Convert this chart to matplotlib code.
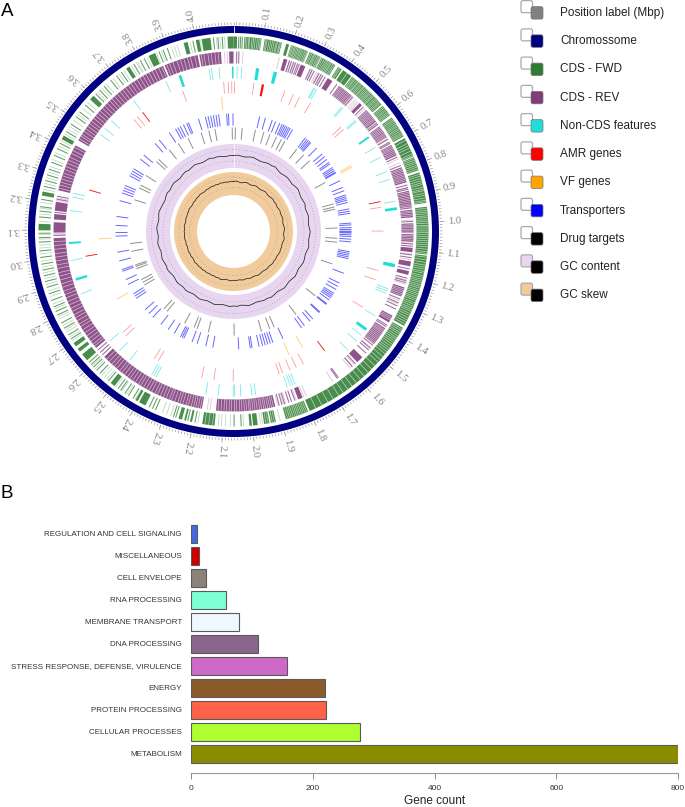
import numpy as np
import matplotlib
matplotlib.use("Agg")
import matplotlib.pyplot as plt
from matplotlib.patches import FancyBboxPatch

plt.rcParams['font.family'] = ['Liberation Sans', 'DejaVu Sans']

GENOME_MBP = 4.128
W, H = 685, 807
CX, CY = 233.5, 231.5
RMAX = 232

# feature tracks, positions in Mbp
FWD_BLOCKS = [(0.000,0.012),(0.037,0.095),(0.106,0.165),(0.180,0.190),(0.197,0.222),(0.232,0.258),(0.264,0.305),
    (0.308,0.323),(0.333,0.361),(0.372,0.387),(0.392,0.426),(0.430,0.566),(0.572,0.612),(0.622,0.697),(0.704,0.772),
    (0.775,0.822),(0.830,0.935),(0.948,1.110),(1.114,1.364),(1.372,1.800),(1.806,1.885),(1.920,1.937),(1.942,1.960),
    (1.982,1.998),(2.002,2.010),(2.128,2.170),(2.205,2.212),(2.226,2.232),(2.240,2.252),(2.372,2.396),(2.402,2.410),
    (2.495,2.512),(2.622,2.648),(2.660,2.672),(2.682,2.696),(3.100,3.122),(3.218,3.232),(3.420,3.434),(3.585,3.602),
    (3.745,3.758),(3.832,3.856),(3.958,3.972),(4.000,4.012),(4.020,4.050),(4.108,4.128)]
# lighter stripes inside the dense stretches, in kbp
FWD_STRIPES_KB = [41,46,52,55,63,68,74,81,87,92,110,114,121,127,133,139,146,150,157,161,200,204,209,213,218,236,241,
    247,252,256,268,273,279,283,288,294,299,303,312,318,337,342,346,352,357,376,381,409,434,439,443,449,455,458,464,469,
    474,480,483,489,494,499,504,509,513,519,524,528,535,540,545,551,556,561,576,581,587,592,598,603,608,627,632,637,643,
    649,654,659,665,670,676,682,687,692,712,724,733,741,752,763,769,779,785,791,797,804,810,817,836,843,851,859,866,872,
    881,888,893,902,909,918,926,931,953,960,966,972,979,985,992,998,1004,1011,1016,1023,1030,1035,1042,1049,1056,1063,
    1070,1077,1084,1092,1100,1106,1119,1128,1137,1146,1153,1160,1168,1174,1182,1188,1195,1201,1207,1214,1220,1226,1233,
    1239,1245,1251,1258,1264,1270,1278,1284,1291,1298,1304,1310,1318,1325,1333,1341,1349,1357,1377,1383,1390,1396,1404,
    1411,1417,1424,1431,1438,1446,1454,1461,1469,1478,1490,1503,1515,1531,1547,1563,1581,1598,1616,1634,1652,1671,1689,
    1711,1732,1755,1778,1811,1817,1823,1829,1835,1841,1847,1853,1860,1866,1872,1879,1925,1932,1947,1954,2135,2148,2161]
FWD_LINES = [0.018,0.024,0.030,0.225,0.229,0.326,0.330,2.038,2.062,2.195,2.220,2.262,2.270,2.335,2.346,2.358,2.420,
    2.438,2.452,2.470,2.480,2.522,2.560,2.575,2.590,2.602,2.612,2.712,2.728,2.755,2.775,2.805,2.818,2.835,2.858,2.882,
    2.905,2.925,2.945,2.965,2.985,3.008,3.030,3.060,3.075,3.090,3.145,3.165,3.180,3.205,3.250,3.270,3.290,3.310,3.335,
    3.360,3.385,3.405,3.450,3.480,3.510,3.530,3.560,3.612,3.630,3.650,3.680,3.705,3.725,3.775,3.800,3.815,3.870,3.885,
    3.900,3.990,4.060,4.075,4.090]
FWD_FAINT = [1.905,1.965,1.972,2.030,2.075,2.092,2.105,2.115,2.185,2.280,2.295,2.310,2.385,2.412,2.445,2.465,2.490,
    2.530,2.540,2.550,2.582,2.596,2.705,2.720,2.740,2.748,2.765,2.790,2.798,2.828,2.845,2.872,2.892,2.915,2.935,2.955,
    2.975,2.995,3.020,3.040,3.050,3.070,3.085,3.130,3.155,3.175,3.195,3.240,3.260,3.280,3.300,3.320,3.345,3.370,3.395,
    3.415,3.440,3.460,3.470,3.495,3.520,3.545,3.572,3.620,3.640,3.660,3.690,3.715,3.735,3.765,3.785,3.790,3.825,3.860,
    3.878,3.915,3.925,3.935,3.980,4.015,4.070,4.082,4.098]

REV_BLOCKS = [(4.112,4.128),(0.186,0.200),(0.252,0.270),(0.362,0.382),(0.412,0.472),(0.510,0.522),(0.545,0.600),
    (0.622,0.670),(0.702,0.745),(0.792,0.850),(0.882,0.940),(0.952,0.980),(1.002,1.038),(1.042,1.070),(1.092,1.108),
    (1.142,1.160),(1.178,1.192),(1.240,1.275),(1.352,1.380),(1.405,1.476),(1.540,1.566),(1.805,1.822),(1.910,2.128),
    (2.180,2.590),(2.634,3.072),(3.092,3.130),(3.140,3.160),(3.172,3.205),(3.248,3.424),(3.445,3.864),(3.870,3.996),
    (4.002,4.082)]
REV_STRIPES_KB = [416,421,426,431,437,442,448,454,459,465,470,549,553,558,563,568,573,578,584,589,594,626,631,636,641,
    646,652,657,662,667,706,711,716,721,727,733,739,797,802,808,814,820,826,832,838,844,887,893,899,905,911,917,923,930,
    936,957,962,968,974,1007,1012,1018,1024,1030,1036,1047,1052,1058,1064,1246,1252,1258,1264,1270,1358,1364,1370,1410,
    1415,1420,1425,1431,1437,1443,1449,1455,1461,1467,1472,1917,1924,1931,1938,1946,1953,1961,1968,1977,1985,1993,2001,
    2007,2016,2024,2033,2041,2052,2060,2071,2080,2090,2099,2110,2121,2186,2194,2203,2211,2220,2231,2240,2252,2262,2271,
    2283,2295,2304,2316,2327,2339,2351,2361,2374,2385,2396,2408,2420,2430,2443,2455,2467,2478,2491,2503,2514,2528,2540,
    2552,2565,2578,2643,2652,2665,2677,2690,2703,2716,2730,2741,2755,2768,2780,2794,2806,2820,2833,2848,2861,2874,2889,
    2902,2917,2931,2944,2960,2973,2988,3002,3015,3031,3045,3059,3256,3268,3279,3291,3303,3314,3327,3339,3352,3364,3376,
    3391,3403,3416,3452,3463,3471,3484,3495,3507,3519,3530,3543,3555,3567,3579,3592,3604,3617,3630,3641,3654,3667,3680,
    3692,3705,3718,3730,3743,3756,3769,3782,3794,3807,3820,3832,3846,3858,3878,3889,3902,3918,3931,3944,3958,3969,3985,
    4009,4019,4034,4046,4060,4072]
REV_LINES = [0.012,0.020,0.208,0.216,0.224,0.232,0.240,0.246,0.290,0.298,0.306,0.326,0.334,0.342,0.352,0.402,0.476,
    0.530,0.606,0.612,0.678,0.690,0.695,0.752,0.785,0.860,0.870,0.876,0.945,0.995,1.078,1.086,1.118,1.128,1.170,1.205,
    1.215,1.222,1.285,1.300,1.312,1.325,1.392,1.398,1.482,1.495,1.505,1.520,1.575,1.590,1.655,1.660,1.835,1.848,1.858,
    1.875,1.885,1.895,2.600,2.612,2.624,3.082,3.166,3.215,3.226]
REV_FAINT = [0.035,0.170,0.210,0.228,0.296,0.316,0.322,0.338,0.480,0.490,0.498,0.505,0.538,0.600,0.612,0.675,0.760,
    0.775,0.870,0.942,0.990,1.075,1.115,1.135,1.212,1.228,1.292,1.305,1.498,1.580,1.590,1.600,1.680,1.790,1.800,1.830,
    1.870,1.880,1.900,2.150,2.160,3.082,3.088,3.210,3.220,4.095,4.105]

NONCDS = [0.015,0.033,0.335,0.340,0.348,0.470,0.476,0.546,0.552,0.680,0.725,0.787,0.820,0.910,1.265,1.275,1.285,1.385,
    1.480,1.510,1.560,1.812,1.822,1.832,1.845,1.975,1.990,2.035,2.060,2.065,2.125,2.175,2.385,2.395,2.405,2.510,2.565,
    2.620,2.840,2.980,3.180,3.235,3.250,3.510,3.540,3.580,3.700,3.850,4.030,4.040,4.070]
NONCDS_THICK = [(0.090,0.103),(0.162,0.176),(0.628,0.636),(0.935,0.946),(1.162,1.176),(1.444,1.456),(2.897,2.907),
    (3.046,3.054),(3.905,3.916),(4.122,4.128)]
AMR = [4.085,4.105,4.120,0.005,0.090,0.230,0.270,0.300,0.355,0.525,0.540,0.925,1.030,1.205,1.247,1.380,1.745,1.780,
    1.810,1.845,1.860,2.065,2.150,2.205,2.410,2.430,2.590,2.610,3.650,3.670,3.900]
AMR_THICK = [(0.125,0.135),(0.898,0.902),(1.633,1.637),(2.985,2.989),(3.278,3.282),(3.698,3.702)]
VF_GENES = [0.696,0.705,1.710,1.785,2.750,3.060,4.070]
TRANSPORTERS = [0.147,0.180,0.220,0.240,0.265,0.280,0.290,0.300,0.310,0.320,0.330,0.345,0.430,0.442,0.452,0.462,0.470,
    0.515,0.560,0.580,0.600,0.620,0.630,0.655,0.665,0.675,0.685,0.690,0.740,0.780,0.800,0.825,0.835,0.845,0.855,0.868,
    0.905,0.918,0.930,0.985,0.995,1.010,1.020,1.030,1.035,1.040,1.050,1.060,1.075,1.090,1.145,1.155,1.165,1.175,1.185,
    1.270,1.330,1.350,1.370,1.395,1.405,1.415,1.425,1.440,1.465,1.470,1.525,1.530,1.580,1.600,1.640,1.660,1.780,1.840,
    1.855,1.870,1.885,1.900,1.920,1.960,1.970,2.035,2.180,2.220,2.270,2.300,2.350,2.360,2.370,2.410,2.450,2.500,2.560,
    2.590,2.620,2.700,2.715,2.730,2.790,2.820,2.870,2.880,2.930,2.980,3.070,3.090,3.130,3.180,3.270,3.315,3.330,3.345,
    3.360,3.420,3.435,3.450,3.465,3.530,3.560,3.650,3.680,3.750,3.790,3.805,3.820,3.840,3.860,3.870,3.930,3.970,3.985,
    4.000,4.015,4.030,4.045,4.090,4.100,4.125]
DRUG_TARGETS = [0.012,0.055,0.140,0.195,0.236,0.280,0.315,0.340,0.430,0.487,0.540,0.710,0.855,0.875,0.890,1.010,1.075,
    1.100,1.240,1.470,1.640,1.800,1.830,1.885,2.060,2.225,2.300,2.320,2.385,2.520,2.545,2.740,2.760,2.780,2.855,2.870,
    2.880,2.970,3.020,3.300,3.380,3.400,3.470,3.580,3.600,3.690,3.760,3.830,3.920,3.970,4.010,4.120]

# GC content (%) and GC skew (x100) in equal windows round the genome
GC_CONTENT = [38.1,38.3,38.0,37.8,38.2,38.4,38.0,37.7,37.9,38.3,38.1,38.5,37.9,37.6,37.9,38.2,38.0,37.8,38.3,38.6,38.2,
    37.9,38.1,38.4,37.8,38.0,38.3,38.1,37.7,38.0,38.4,38.2,37.9,38.2,38.5,38.0,37.8,38.1,38.3,37.9,37.6,37.9,38.2,37.8,
    37.5,37.8,38.1,37.7,37.4,37.7,38.0,37.6,37.8,37.5,37.3,37.6,37.9,37.5,37.2,37.6,37.4,37.7,37.3,37.1,37.5,37.8,37.4,
    37.2,37.6,37.9,37.5,37.3,37.7,38.0,37.6,37.8,38.1,37.7,37.5,37.9,38.2,37.8,38.0,38.3,37.9,37.7,38.1,38.4,38.0,37.8,
    38.2,38.5,38.1,37.9,38.3,38.6,38.2,38.0,37.7,38.1,38.4,38.0,38.3,38.5,38.1,37.8,38.2,38.4,38.0,38.3,38.6,38.2,37.9,
    38.2,38.5,38.1,38.3,38.0,37.8,38.1]
GC_SKEW = [0.4,0.8,0.2,-0.3,0.5,0.9,0.3,0.0,0.6,1.0,0.4,0.1,0.7,1.1,0.5,0.2,0.8,1.2,0.6,0.9,0.3,0.7,1.1,0.5,0.8,1.2,0.7,
    0.3,0.9,1.3,0.8,0.4,1.0,1.4,0.7,0.4,0.9,0.5,1.0,0.6,0.2,0.7,0.3,0.8,0.4,0.0,0.5,0.1,-0.3,0.2,0.5,0.0,-0.4,0.1,-0.2,
    -0.6,-0.1,-0.5,-0.8,-0.3,-0.7,-0.2,-0.6,-1.0,-0.5,0.1,-0.8,-0.4,-1.0,-0.6,-0.9,-0.4,-0.8,-0.3,-0.7,-0.2,-0.6,-0.1,
    -0.5,-0.9,-0.3,-0.7,-0.2,-0.6,-0.9,-0.4,-0.8,-0.3,-0.1,-0.6,-0.2,-0.5,0.0,-0.4,-0.7,-0.2,-0.5,-0.1,-0.4,0.1,-0.3,
    -0.6,-0.1,-0.4,0.1,-0.2,0.3,-0.1,-0.4,0.2,-0.1,0.4,0.0,0.3,-0.1,0.5,0.1,0.4,0.0,0.6]

LEGEND_LABELS = ["Position label (Mbp)", "Chromossome", "CDS - FWD", "CDS - REV", "Non-CDS features", "AMR genes",
                 "VF genes", "Transporters", "Drug targets", "GC content", "GC skew"]
LEGEND_BACK = ["white"] * 9 + ["#E8D6F0", "#F2CB9C"]
LEGEND_FRONT = ["#808080", "#000080", "#2E7D32", "#7F3B7A", "#20DDD5", "#FF0000", "#FFA500", "#0000FF", "black",
                "black", "black"]

# panel B, listed bottom to top
CATEGORIES = ["METABOLISM", "CELLULAR PROCESSES", "PROTEIN PROCESSING", "ENERGY", "STRESS RESPONSE, DEFENSE, VIRULENCE",
              "DNA PROCESSING", "MEMBRANE TRANSPORT", "RNA PROCESSING", "CELL ENVELOPE", "MISCELLANEOUS",
              "REGULATION AND CELL SIGNALING"]
GENE_COUNTS = [800, 277, 221, 220, 158, 110, 79, 57, 25, 13, 10]
BAR_COLORS = ["#8B8B00", "#ADFF2F", "#FF6347", "#8B5A2B", "#CD69C9", "#8B668B", "#F0F8FF", "#7FFFD4", "#8B8378",
              "#CD0000", "#4169E1"]


def th(p):
    return np.asarray(p) / GENOME_MBP * 2 * np.pi


def lines(ax, pos, r0, r1, color, lw=0.7, alpha=0.8):
    ax.vlines(th(pos), r0, r1, colors=color, linewidth=lw, alpha=alpha)


def blocks(ax, spans, r0, r1, color, alpha=0.8):
    a = th([s[0] for s in spans])
    b = th([s[1] for s in spans])
    ax.bar((a + b) / 2, r1 - r0, width=b - a, bottom=r0, color=color, alpha=alpha, linewidth=0)


def ring(ax, r0, r1, color):
    ax.bar(np.pi, r1 - r0, width=2 * np.pi, bottom=r0, color=color, linewidth=0)


fig = plt.figure(figsize=(W / 100, H / 100), dpi=100)
ax = fig.add_axes([(CX - RMAX) / W, (H - CY - RMAX) / H, 2 * RMAX / W, 2 * RMAX / H], projection='polar')
ax.set_theta_zero_location('N')
ax.set_theta_direction(-1)
ax.set_ylim(0, RMAX)
ax.axis('off')

GREEN, PURPLE, TEAL = "#2E7D32", "#7F3B7A", "#20DDD5"

ring(ax, 198.5, 205.5, "#000080")
ax.vlines(0, 198.5, 205.5, colors="white", linewidth=0.6)

blocks(ax, FWD_BLOCKS, 183, 195, GREEN, 0.88)
lines(ax, np.array(FWD_STRIPES_KB) / 1000, 183, 195, "white", 0.55, 0.6)
lines(ax, FWD_LINES, 183, 195, GREEN, 0.75, 0.75)
lines(ax, FWD_FAINT, 183, 195, GREEN, 0.6, 0.3)

blocks(ax, REV_BLOCKS, 168, 180, PURPLE, 0.88)
lines(ax, np.array(REV_STRIPES_KB) / 1000, 168, 180, "white", 0.55, 0.6)
lines(ax, REV_LINES, 168, 180, PURPLE, 0.75, 0.75)
lines(ax, REV_FAINT, 168, 180, PURPLE, 0.6, 0.3)

lines(ax, NONCDS, 153, 165, TEAL, 0.6, 0.6)
blocks(ax, NONCDS_THICK, 153, 165, TEAL, 1.0)
lines(ax, AMR, 138, 150, "#FF0000", 0.6, 0.4)
blocks(ax, AMR_THICK, 138, 150, "#FF0000", 0.95)
lines(ax, VF_GENES, 122, 135, "#FFA500", 0.7, 0.5)
lines(ax, TRANSPORTERS, 106, 118, "#0000FF", 0.7, 0.6)
lines(ax, DRUG_TARGETS, 92, 104, "#333333", 0.7, 0.55)

ring(ax, 63.5, 87.5, "#E8D6F0")
ring(ax, 36.5, 59.5, "#F2CB9C")
ax.vlines(0, 63.5, 87.5, colors="white", linewidth=0.5)
for r in (70.5, 82, 44, 54.5):
    circle_t = np.linspace(0, 2 * np.pi, 361)
    ax.plot(circle_t, np.full_like(circle_t, r), color="#8f8f9a", lw=0.5, ls=(0, (1, 3)))

gc_t = np.arange(len(GC_CONTENT) + 1) / len(GC_CONTENT) * 2 * np.pi
ax.plot(gc_t, 75.8 + (np.array(GC_CONTENT + GC_CONTENT[:1]) - 38) * 2.2, color="#222222", lw=0.55)
sk_t = np.arange(len(GC_SKEW) + 1) / len(GC_SKEW) * 2 * np.pi
ax.plot(sk_t, 49.6 + np.array(GC_SKEW + GC_SKEW[:1]) * 1.2, color="#222222", lw=0.55)

# position scale
minor = np.arange(0, 413) / 100
major = np.arange(1, 41) / 10
ax.vlines(th(minor), 206.5, 209, colors="#999999", linewidth=0.5)
ax.vlines(th(major), 206.5, 211.5, colors="#999999", linewidth=0.5)
for m in major:
    deg = m / GENOME_MBP * 360
    ax.text(th(m), 221, f"{m:.1f}", rotation=90 - deg, rotation_mode='anchor', ha='center', va='center',
            color="#808080", fontsize=7.6, family='Liberation Serif')

# overlay in picture pixels for legend and panel letters
ov = fig.add_axes([0, 0, 1, 1], facecolor='none')
ov.set_xlim(0, W)
ov.set_ylim(H, 0)
ov.axis('off')
ov.text(1, 11, "A", fontsize=13.5, va='center', ha='left')
ov.text(0, 493.5, "B", fontsize=13.5, va='center', ha='left')
for i, label in enumerate(LEGEND_LABELS):
    y = 12.6 + i * 28.25
    ov.add_patch(FancyBboxPatch((521, y - 12), 11.5, 12, boxstyle="round,pad=0,rounding_size=2",
                                fc=LEGEND_BACK[i], ec="#aaaaaa", lw=0.9))
    ov.add_patch(FancyBboxPatch((531, y - 6), 12, 12.5, boxstyle="round,pad=0,rounding_size=2",
                                fc=LEGEND_FRONT[i], ec="#777777", lw=0.5))
    ov.text(560, y + 0.3, label, fontsize=8.5, va='center', ha='left', color="#222222")
ov.text(434.5, 801, "Gene count", fontsize=8.5, va='center', ha='center', color="#222222")

# panel B
bx = fig.add_axes([191 / W, (H - 772.7) / H, 487 / W, 248.7 / H])
bx.barh(range(len(CATEGORIES)), GENE_COUNTS, height=0.83, color=BAR_COLORS, edgecolor="#5a5a5a", linewidth=0.8)
bx.set_xlim(0, 800)
bx.set_ylim(-0.85, 10.45)
bx.set_yticks(range(len(CATEGORIES)))
bx.set_yticklabels(CATEGORIES, fontsize=5.8, color="#333333")
bx.tick_params(axis='y', length=0, pad=6.5)
bx.set_xticks([0, 200, 400, 600, 800])
bx.tick_params(axis='x', length=4, width=0.6, color="#777777", labelsize=6, labelcolor="#333333", pad=5)
for s in ('top', 'right', 'left'):
    bx.spines[s].set_visible(False)
bx.spines['bottom'].set_color("#999999")

fig.savefig("out.png", dpi=100)
